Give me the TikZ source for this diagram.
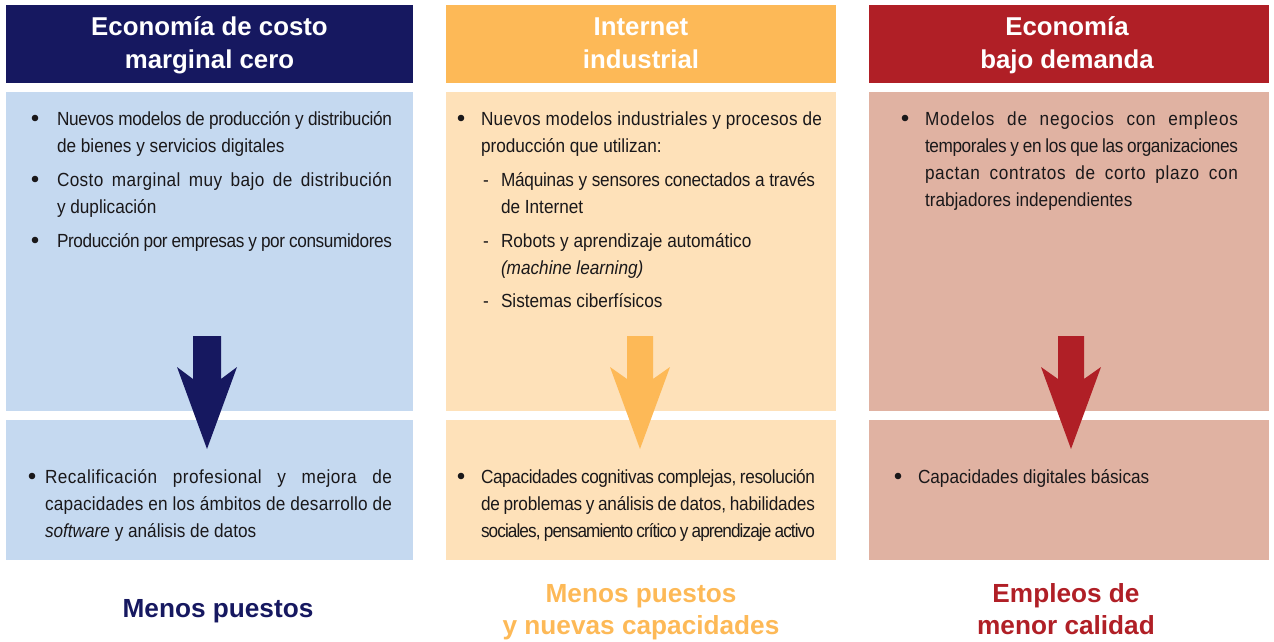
\documentclass[tikz,border=0pt]{standalone}
\usepackage{fontspec}
\setmainfont{Liberation Sans}
\newfontfamily\bodyfont[FakeStretch=0.905]{Liberation Sans}
\newfontfamily\headfont{Liberation Sans}
\definecolor{navy}{RGB}{22,24,96}
\definecolor{lblue}{RGB}{197,217,240}
\definecolor{orng}{RGB}{253,185,87}
\definecolor{lorng}{RGB}{254,225,185}
\definecolor{rred}{RGB}{176,31,38}
\definecolor{pink}{RGB}{224,178,162}
\definecolor{txt}{RGB}{26,24,26}
\newcommand\bodytext{\bodyfont\fontsize{19}{27}\selectfont}
\newcommand\jline[2][0]{\hbox to \hsize{\addfontfeature{LetterSpace=#1}#2}}
\newcommand\lline[2][0]{\hbox{\addfontfeature{LetterSpace=#1}#2}}
\newcommand\bpar[2]{\parbox[t]{#1}{\bodytext #2}}
\tikzset{
  bodyitem/.style={anchor=base west, text=txt, font=\bodytext},
  bul/.style={circle, fill=txt, minimum size=6.6pt},
  hdr/.style={anchor=base, text=white, font=\headfont\bfseries\fontsize{25.8}{32}\selectfont},
  foot/.style={anchor=base, font=\headfont\bfseries\fontsize{26.2}{32}\selectfont},
  downarrow/.style={line join=miter}
}
\begin{document}
\begin{tikzpicture}[x=1pt,y=-1pt, every node/.style={inner sep=0pt,outer sep=0pt}]
\useasboundingbox (0,0) rectangle (1274,642);
% ---------- boxes
\fill[navy]  (6,5) rectangle (413,83);
\fill[lblue] (6,92) rectangle (413,411);
\fill[lblue] (6,420) rectangle (413,560);
\fill[orng]  (446,5) rectangle (836,83);
\fill[lorng] (446,92) rectangle (836,411);
\fill[lorng] (446,420) rectangle (836,560);
\fill[rred]  (869,5) rectangle (1269,83);
\fill[pink]  (869,92) rectangle (1269,411);
\fill[pink]  (869,420) rectangle (1269,560);
% ---------- headers
\node[hdr] (h1a) at (209.5,36) {Economía de costo};
\node[hdr] (h1b) at (209.5,68) {marginal cero};
\node[hdr] (h2a) at (641,36) {Internet};
\node[hdr] (h2b) at (641,68) {industrial};
\node[hdr] (h3a) at (1067,36) {Economía};
\node[hdr] (h3b) at (1067,68) {bajo demanda};
% ---------- arrows
\begin{scope}[shift={(207,0)}]
\fill[navy,downarrow] (-14,336) -- (14,336) -- (14,379) -- (30,367) -- (0,449) -- (-30,367) -- (-14,379) -- cycle;
\end{scope}
\begin{scope}[shift={(640,0)}]
\fill[orng,downarrow] (-13,336) -- (13,336) -- (13,379) -- (30,367) -- (0,449) -- (-30,367) -- (-13,379) -- cycle;
\end{scope}
\begin{scope}[shift={(1071,0)}]
\fill[rred,downarrow] (-13,336) -- (13,336) -- (13,379) -- (30,367) -- (0,449) -- (-30,367) -- (-13,379) -- cycle;
\end{scope}
% ---------- column 1 upper
\node[bul] (b11) at (35,118) {};
\node[bodyitem] (t11) at (57,125) {\bpar{335pt}{\jline[-1.5]{Nuevos modelos de producción y distribución}\lline{de bienes y servicios digitales}}};
\node[bul] (b12) at (35,179) {};
\node[bodyitem] (t12) at (57,186) {\bpar{335pt}{\jline[2]{Costo marginal muy bajo de distribución}\lline{y duplicación}}};
\node[bul] (b13) at (35,240) {};
\node[bodyitem] (t13) at (57,247) {\bpar{335pt}{\jline[-2]{Producción por empresas y por consumidores}}};
% ---------- column 2 upper
\node[bul] (b21) at (461,118) {};
\node[bodyitem] (t21) at (481,125) {\bpar{341pt}{\jline[1.5]{Nuevos modelos industriales y procesos de}\lline{producción que utilizan:}}};
\node[bodyitem] (d21) at (483,186) {-};
\node[bodyitem] (s21) at (501,186) {\bpar{314pt}{\jline[-1.2]{Máquinas y sensores conectados a través}\lline{de Internet}}};
\node[bodyitem] (d22) at (483,247) {-};
\node[bodyitem] (s22) at (501,247) {\bpar{314pt}{\lline{Robots y aprendizaje automático}\lline{\itshape (machine learning)}}};
\node[bodyitem] (d23) at (483,307) {-};
\node[bodyitem] (s23) at (501,307) {\bpar{314pt}{\lline{Sistemas ciberfísicos}}};
% ---------- column 3 upper
\node[bul] (b31) at (905,118) {};
\node[bodyitem] (t31) at (925,125) {\bpar{313pt}{\jline[4]{Modelos de negocios con empleos}\jline[-2]{temporales y en los que las organizaciones}\jline[3.5]{pactan contratos de corto plazo con}\lline{trabjadores independientes}}};
% ---------- lower boxes
\node[bul] (b14) at (32,476) {};
\node[bodyitem] (t14) at (45,483) {\bpar{347pt}{\jline[2.5]{Recalificación profesional y mejora de}\jline[1]{capacidades en los ámbitos de desarrollo de}\lline{{\itshape software} y análisis de datos}}};
\node[bul] (b24) at (461,476) {};
\node[bodyitem] (t24) at (481,483) {\bpar{334pt}{\jline[-2]{Capacidades cognitivas complejas, resolución}\jline[-1]{de problemas y análisis de datos, habilidades}\jline[-4.8]{sociales, pensamiento crítico y aprendizaje activo}}};
\node[bul] (b34) at (898,476) {};
\node[bodyitem] (t34) at (918,483) {\bpar{330pt}{\lline{Capacidades digitales básicas}}};
% ---------- footers
\node[foot, text=navy] (f1) at (218,617) {Menos puestos};
\node[foot, text=orng] (f2a) at (641,602) {Menos puestos};
\node[foot, text=orng] (f2b) at (641,634) {y nuevas capacidades};
\node[foot, text=rred] (f3a) at (1066,602) {Empleos de};
\node[foot, text=rred] (f3b) at (1066,634) {menor calidad};
\end{tikzpicture}
\end{document}
